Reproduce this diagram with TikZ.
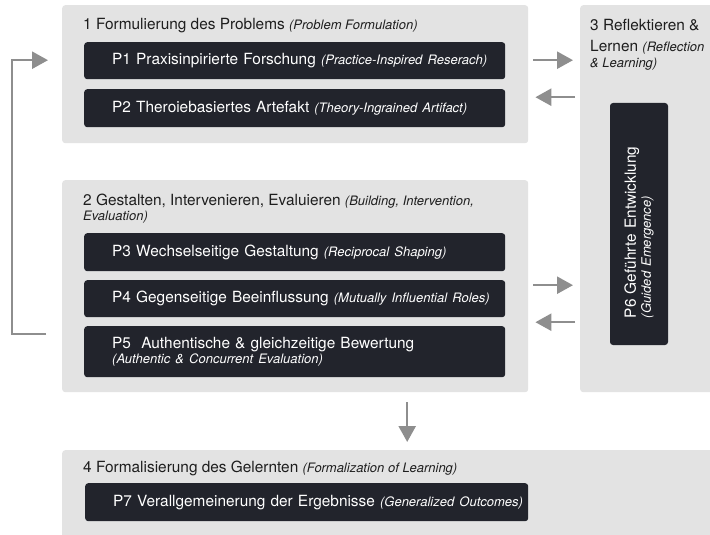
\documentclass[tikz,border=0pt]{standalone}
\usepackage{fontspec}
\setmainfont{TeX Gyre Heros}
\usetikzlibrary{arrows.meta}
\definecolor{panelgray}{HTML}{E3E3E3}
\definecolor{boxdark}{HTML}{22242C}
\definecolor{arrowgray}{HTML}{8E8E8E}
\definecolor{titletext}{HTML}{1E1E1E}
\newcommand\mf{\fontsize{15.4}{18}\selectfont}
\newcommand\itf{\fontsize{13}{15}\selectfont\itshape}
\newcommand\oneline[1]{\mbox{#1}}
\begin{document}
\begin{tikzpicture}[x=1pt,y=-1pt,
  panel/.style={fill=panelgray, rounded corners=3pt, inner sep=0pt, anchor=north west},
  pbox/.style={fill=boxdark, text=white, rounded corners=3pt, anchor=north west,
    inner xsep=28pt, inner ysep=0pt, align=left, font=\mf},
  title/.style={text=titletext, inner sep=0pt, anchor=base west, align=left, font=\mf},
  arr/.style={draw=arrowgray, line width=2.5pt, -{Triangle[length=16pt,width=17pt]}}]
\useasboundingbox (0,0) rectangle (710,535);
% panels
\node[panel, minimum width=466pt, minimum height=138pt] (panelA) at (62,5) {};
\node[panel, minimum width=466pt, minimum height=212pt] (panelB) at (62,180) {};
\node[panel, minimum width=140pt, minimum height=387pt] (panelC) at (580,5) {};
\node[panel, minimum width=660pt, minimum height=100pt] (panelD) at (62,450) {};
% titles (base anchor = baseline of the last line)
\node[title] (t1) at (83,30) {1 Formulierung des Problems {\itf (Problem Formulation)}};
\node[title] (t2) at (83,220) {2 Gestalten, Intervenieren, Evaluieren {\itf (Building, Intervention,}\\[-3pt]{\itf Evaluation)}};
\node[title] (t3) at (590,67) {3 Reflektieren \&\\[2pt]Lernen {\itf (Reflection}\\[-2pt]{\itf \& Learning)}};
\node[title] (t4) at (83,472) {4 Formalisierung des Gelernten {\itf (Formalization of Learning)}};
% boxes
\node[pbox, text width=365pt, minimum height=37pt] (p1) at (84,42) {\oneline{P1 Praxisinpirierte Forschung {\itf (Practice-Inspired Reserach)}}};
\node[pbox, text width=365pt, minimum height=38pt] (p2) at (84,89) {\oneline{P2 Theroiebasiertes Artefakt {\itf (Theory-Ingrained Artifact)}}};
\node[pbox, text width=365pt, minimum height=38pt] (p3) at (84,233) {\oneline{P3 Wechselseitige Gestaltung {\itf (Reciprocal Shaping)}}};
\node[pbox, text width=365pt, minimum height=37pt] (p4) at (84,280) {\oneline{P4 Gegenseitige Beeinflussung {\itf (Mutually Influential Roles)}}};
\node[pbox, text width=365pt, minimum height=51pt] (p5) at (84,326) {\oneline{P5\ \ Authentische \& gleichzeitige Bewertung}\\[-3pt]\oneline{\itf (Authentic \& Concurrent Evaluation)}};
\node[pbox, text width=387pt, minimum height=38pt] (p7) at (85,483) {\oneline{P7 Verallgemeinerung der Ergebnisse {\itf (Generalized Outcomes)}}};
\node[pbox, anchor=center, rotate=90, inner xsep=27pt, text width=188pt, minimum height=58pt] (p6) at (639,224) {\oneline{P6 Geführte Entwicklung}\\[-3pt]\oneline{\itf (Guided Emergence)}};
% connector coordinates
\coordinate (r1) at ([yshift=14pt]panelA.east);
\coordinate (l1) at ([yshift=-23pt]panelA.east);
\coordinate (r2) at ([yshift=1pt]panelB.east);
\coordinate (l2) at ([yshift=-36pt]panelB.east);
\coordinate (d1) at ([xshift=112pt]panelB.south);
\coordinate (f1) at ([yshift=-48pt]panelB.west);
\coordinate (f2) at ([yshift=14pt]panelA.west);
% connectors
\draw[arr, shorten <=5pt, shorten >=7pt] (r1) -- (r1 -| panelC.west);
\draw[arr, shorten <=5pt, shorten >=7pt] (l1 -| panelC.west) -- (l1);
\draw[arr, shorten <=5pt, shorten >=7pt] (r2) -- (r2 -| panelC.west);
\draw[arr, shorten <=5pt, shorten >=7pt] (l2 -| panelC.west) -- (l2);
\draw[arr, shorten <=10pt, shorten >=8pt] (d1) -- (d1 |- panelD.north);
\draw[arr, shorten <=16pt, shorten >=14pt] (f1) -- ++(-50,0) |- (f2);
\end{tikzpicture}
\end{document}
